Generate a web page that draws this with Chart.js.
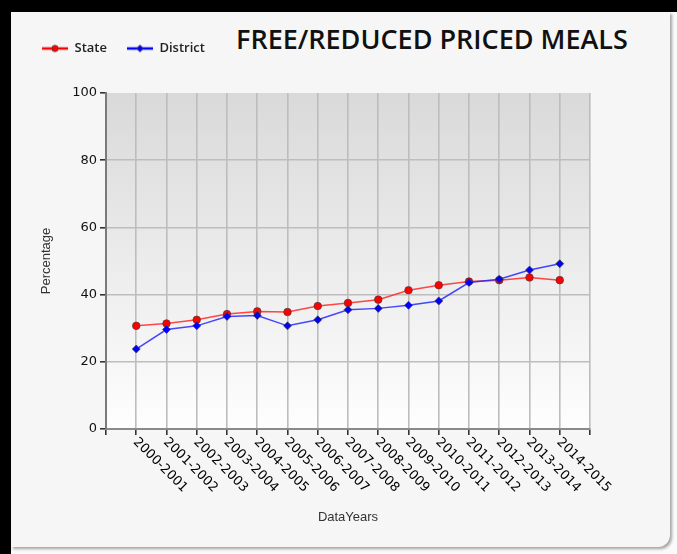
<!DOCTYPE html>
<html>
<head>
<meta charset="utf-8">
<script src="https://cdn.jsdelivr.net/npm/chart.js@4.4.1/dist/chart.umd.min.js"></script>
<style>
html,body{margin:0;padding:0;width:677px;height:554px;overflow:hidden;background:#fafafa;}
#blackL{position:absolute;left:0;top:0;width:11px;height:554px;background:#000;}
#blackT{position:absolute;left:0;top:0;width:677px;height:12px;background:#000;}
#panel{position:absolute;left:11px;top:12px;width:659px;height:535px;background:#f6f6f6;border-radius:0 0 12px 0;box-shadow:2px 2px 3px rgba(0,0,0,0.35);}
#title{position:absolute;left:236px;top:25px;font:600 27px/27px "Open Sans";color:#111;white-space:nowrap;}
#wrap{position:absolute;left:0;top:0;width:677px;height:554px;}
</style>
</head>
<body>
<div id="blackL"></div>
<div id="blackT"></div>
<div id="panel"></div>
<div id="title">FREE/REDUCED PRICED MEALS</div>
<div id="wrap"><canvas id="c" width="677" height="554"></canvas></div>
<script>
const categories = ["2000-2001","2001-2002","2002-2003","2003-2004","2004-2005","2005-2006","2006-2007","2007-2008","2008-2009","2009-2010","2010-2011","2011-2012","2012-2013","2013-2014","2014-2015"];
const stateValues = [30.7,31.4,32.5,34.2,35.0,34.8,36.6,37.5,38.5,41.3,42.8,43.9,44.3,45.1,44.3];
const districtValues = [23.8,29.6,30.7,33.5,33.8,30.7,32.5,35.5,35.9,36.8,38.1,43.6,44.6,47.3,49.2];
const yTicks = [0,20,40,60,80,100];
const seriesNames = ["State","District"];

function legendIcon(color, shape){
  const cv = document.createElement('canvas');
  cv.width = 26; cv.height = 10;
  const g = cv.getContext('2d');
  g.strokeStyle = color; g.lineWidth = 2.5;
  g.beginPath(); g.moveTo(0,5); g.lineTo(26,5); g.stroke();
  g.fillStyle = color; g.strokeStyle = 'rgba(60,60,60,0.7)'; g.lineWidth = 1;
  g.beginPath();
  if (shape === 'circle') { g.arc(13,5,3.2,0,Math.PI*2); }
  else { g.moveTo(13,1.5); g.lineTo(16.5,5); g.lineTo(13,8.5); g.lineTo(9.5,5); g.closePath(); }
  g.fill(); g.stroke();
  return cv;
}
const icons = [legendIcon('#ff0000','circle'), legendIcon('#0000ff','diamond')];

const plotBg = {
  id:'plotBg',
  beforeDraw(chart){
    const a = chart.chartArea, ctx = chart.ctx;
    const gr = ctx.createLinearGradient(0,a.top,0,a.bottom);
    gr.addColorStop(0,'#d9d9d9');
    gr.addColorStop(1,'#fefefe');
    ctx.save(); ctx.fillStyle = gr; ctx.fillRect(a.left,a.top,a.right-a.left,a.bottom-a.top); ctx.restore();
  }
};

const xLabels = {
  id:'xLabels',
  afterDraw(chart){
    const xs = chart.scales.x, ctx = chart.ctx;
    ctx.save();
    ctx.font = '13px "DejaVu Sans"';
    ctx.fillStyle = '#000';
    ctx.textAlign = 'left';
    ctx.textBaseline = 'middle';
    categories.forEach((lab,i)=>{
      const px = xs.getPixelForValue(i);
      ctx.save();
      ctx.translate(px - 1, xs.top + 11);
      ctx.rotate(Math.PI/4);
      ctx.fillText(lab, 0, 0);
      ctx.restore();
    });
    ctx.restore();
  }
};

new Chart(document.getElementById('c'), {
  type:'line',
  data:{
    datasets:[
      {label:seriesNames[0], xAxisID:'x', yAxisID:'y', data:stateValues.map((v,i)=>({x:i,y:v})), borderColor:'rgba(255,40,40,0.85)', borderWidth:1.5,
       backgroundColor:'#ff0000', pointStyle:'circle', pointRadius:3.8, pointBorderColor:'rgba(60,60,60,0.65)', pointBorderWidth:1, pointBackgroundColor:'#ff0000', order:1},
      {label:seriesNames[1], xAxisID:'x', yAxisID:'y', data:districtValues.map((v,i)=>({x:i,y:v})), borderColor:'rgba(40,40,255,0.85)', borderWidth:1.5,
       backgroundColor:'#0000ff', pointStyle:'rectRot', pointRadius:4, pointBorderColor:'rgba(60,60,60,0.65)', pointBorderWidth:1, pointBackgroundColor:'#0000ff', order:0}
    ]
  },
  options:{
    responsive:false, animation:false,
    layout:{padding:{left:22,top:22,right:87,bottom:19}},
    plugins:{
      legend:{position:'top', align:'start',
        labels:{usePointStyle:true, pointStyleWidth:26, padding:20, color:'#222',
          font:{family:'"Open Sans"', size:13, weight:'600'},
          generateLabels(chart){
            const items = Chart.defaults.plugins.legend.labels.generateLabels(chart);
            items.forEach((it)=>{ it.pointStyle = icons[it.datasetIndex]; });
            items.sort((a,b)=>a.datasetIndex-b.datasetIndex);
            return items;
          }}},
      tooltip:{enabled:false}
    },
    scales:{
      x:{type:'linear', min:-1, max:categories.length, position:'bottom',
        afterFit(s){ s.height = 106; },
        ticks:{display:false, stepSize:1},
        grid:{color:'#bdbdbd', lineWidth:1.6, tickColor:'#333', tickLength:6, drawTicks:true},
        border:{color:'#8a8a8a', width:2},
        title:{display:true, text:'DataYears', color:'#333', font:{family:'"Liberation Sans"', size:13}, padding:{top:0,bottom:10}}
      },
      xTop:{type:'linear', axis:'x', position:'top', min:0, max:1,
        afterFit(s){ s.height = 28; },
        ticks:{display:false},
        grid:{display:false, drawTicks:false},
        border:{display:false}
      },
      y:{min:0, max:100,
        afterFit(s){ s.width = 84; },
        afterBuildTicks(s){ s.ticks = yTicks.map(v=>({value:v})); },
        ticks:{color:'#111', padding:3, font:{family:'"DejaVu Sans"', size:13}},
        grid:{color:(c)=> (c.tick && c.tick.value===100) ? 'rgba(0,0,0,0)' : '#bdbdbd', lineWidth:1.6, tickColor:'#333', tickLength:6},
        border:{color:'#7a7a7a', width:2},
        title:{display:true, text:'Percentage', color:'#333', font:{family:'"Liberation Sans"', size:13}, padding:{top:17,bottom:0}}
      }
    }
  },
  plugins:[plotBg, xLabels]
});
</script>
</body>
</html>
